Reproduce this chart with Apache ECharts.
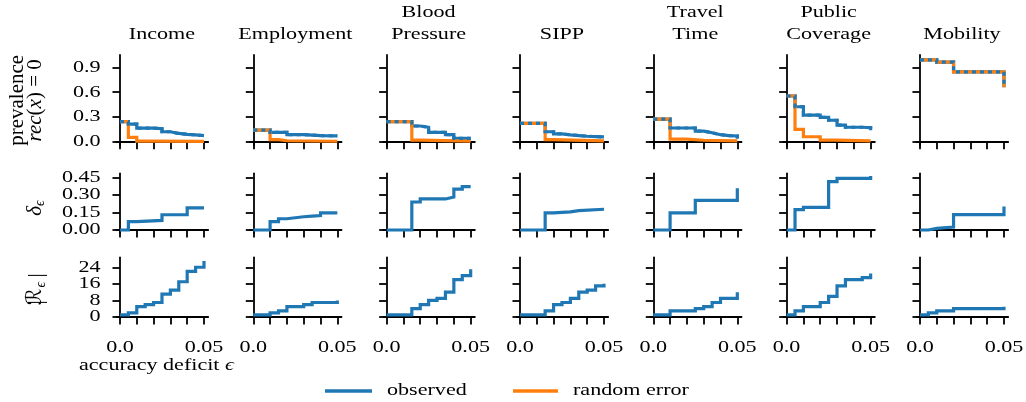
<!DOCTYPE html>
<html>
<head>
<meta charset="utf-8">
<script src="https://cdn.jsdelivr.net/npm/echarts@6/dist/echarts.min.js"></script>
<style>
  html, body { margin: 0; padding: 0; background: #fff; }
  #chart { width: 1026px; height: 402px; }
</style>
</head>
<body>
<div id="chart"></div>
<script>
// ---- data ----------------------------------------------------------------
const datasets = ['Income', 'Employment', 'Blood\nPressure', 'SIPP', 'Travel\nTime', 'Public\nCoverage', 'Mobility'];

const epsTicks = [0, 0.01, 0.02, 0.03, 0.04, 0.05];
const epsLabelValues = [0, 0.05];
const epsLabels = ['0.0', '0.05'];

const prevTicks = [0, 0.3, 0.6, 0.9];
const prevLabels = ['0.0', '0.3', '0.6', '0.9'];
const deltaTicks = [0, 0.15, 0.3, 0.45];
const deltaLabels = ['0.00', '0.15', '0.30', '0.45'];
const sizeTicks = [0, 8, 16, 24];
const sizeLabels = ['0', '8', '16', '24'];

// prevalence of rec(x) = 0, observed errors: [epsilon, value] step points
const prevObserved = [
  [[0, 0.242], [0.005, 0.214], [0.01, 0.165], [0.02, 0.157], [0.025, 0.121], [0.03, 0.10], [0.035, 0.09], [0.04, 0.083], [0.045, 0.073], [0.05, 0.065]],
  [[0, 0.141], [0.01, 0.113], [0.02, 0.085], [0.03, 0.075], [0.04, 0.07], [0.05, 0.062]],
  [[0, 0.242], [0.015, 0.19], [0.02, 0.175], [0.025, 0.113], [0.035, 0.085], [0.04, 0.04], [0.05, 0.035]],
  [[0, 0.222], [0.015, 0.121], [0.02, 0.095], [0.025, 0.083], [0.03, 0.075], [0.035, 0.066], [0.04, 0.062], [0.045, 0.058], [0.05, 0.05]],
  [[0, 0.274], [0.01, 0.166], [0.025, 0.129], [0.03, 0.109], [0.035, 0.085], [0.04, 0.075], [0.045, 0.07], [0.05, 0.04]],
  [[0, 0.553], [0.005, 0.423], [0.01, 0.323], [0.02, 0.295], [0.025, 0.26], [0.03, 0.202], [0.035, 0.175], [0.045, 0.17], [0.05, 0.14]],
  [[0, 0.99], [0.01, 0.964], [0.02, 0.846], [0.05, 0.66]]
];

// prevalence of rec(x) = 0, random errors
const prevRandom = [
  [[0, 0.242], [0.005, 0.053], [0.01, 0.008], [0.02, 0.004], [0.05, 0.002]],
  [[0, 0.141], [0.01, 0.025], [0.015, 0.012], [0.02, 0.006], [0.05, 0.003]],
  [[0, 0.242], [0.015, 0.02], [0.02, 0.008], [0.05, 0.004]],
  [[0, 0.222], [0.015, 0.025], [0.02, 0.01], [0.05, 0.004]],
  [[0, 0.274], [0.01, 0.032], [0.02, 0.018], [0.03, 0.01], [0.05, 0.005]],
  [[0, 0.553], [0.005, 0.15], [0.01, 0.06], [0.02, 0.02], [0.03, 0.01], [0.05, 0.005]],
  [[0, 0.99], [0.01, 0.964], [0.02, 0.846], [0.05, 0.66]]
];

// delta_epsilon, observed
const deltaObserved = [
  [[0, 0], [0.005, 0.071], [0.01, 0.082], [0.025, 0.13], [0.04, 0.189], [0.05, 0.189]],
  [[0, 0], [0.01, 0.071], [0.015, 0.096], [0.02, 0.113], [0.03, 0.118], [0.035, 0.124], [0.04, 0.146], [0.05, 0.15]],
  [[0, 0], [0.015, 0.239], [0.02, 0.265], [0.035, 0.281], [0.04, 0.349], [0.045, 0.371], [0.05, 0.371]],
  [[0, 0], [0.015, 0.146], [0.02, 0.155], [0.03, 0.166], [0.035, 0.177], [0.05, 0.177]],
  [[0, 0], [0.01, 0.146], [0.025, 0.253], [0.05, 0.357]],
  [[0, 0], [0.005, 0.174], [0.01, 0.194], [0.025, 0.413], [0.03, 0.441], [0.05, 0.461]],
  [[0, 0], [0.005, 0.014], [0.01, 0.025], [0.02, 0.132], [0.05, 0.2]]
];

// |R_epsilon|, observed
const sizeObserved = [
  [[0, 1], [0.005, 2], [0.01, 5], [0.015, 6], [0.02, 7], [0.025, 11], [0.03, 13], [0.035, 17], [0.04, 22], [0.045, 24], [0.05, 27]],
  [[0, 1], [0.01, 2], [0.015, 3], [0.02, 5], [0.03, 6], [0.035, 7], [0.05, 8]],
  [[0, 1], [0.015, 4], [0.02, 6], [0.025, 8], [0.03, 9], [0.035, 12], [0.04, 18], [0.045, 20], [0.05, 23]],
  [[0, 1], [0.015, 3], [0.02, 6], [0.025, 7], [0.03, 9], [0.035, 12], [0.04, 13], [0.045, 15], [0.05, 16]],
  [[0, 1], [0.01, 3], [0.025, 4], [0.03, 5], [0.035, 7], [0.04, 9], [0.05, 12]],
  [[0, 1], [0.005, 3], [0.01, 5], [0.02, 7], [0.025, 10], [0.03, 15], [0.035, 18], [0.045, 19], [0.05, 21]],
  [[0, 1], [0.005, 2], [0.01, 3], [0.02, 4], [0.05, 5]]
];

// ---- layout & style ------------------------------------------------------
const BLUE = '#1f77b4';
const ORANGE = '#ff7f0e';
const SERIF = '"Liberation Serif", "DejaVu Serif", serif';
const FONT = '17px ' + SERIF;
const SX = 1.3;            // horizontal widening of horizontal text
const NCOL = 7;
const X_MIN = -0.002, X_MAX = 0.0525;
const GRID_W = 91.6;
const colLeft = c => 116.6 + 133.33 * c;

const rows = [
  { top: 55,    height: 90.7, min: -0.048, max: 1.049, ticks: prevTicks,  labels: prevLabels },
  { top: 173.3, height: 59.4, min: -0.023, max: 0.484, ticks: deltaTicks, labels: deltaLabels },
  { top: 257.3, height: 60.4, min: -0.33,  max: 28.8,  ticks: sizeTicks,  labels: sizeLabels }
];

const axisLine = { show: true, lineStyle: { color: '#000', width: 1.8 } };
const axisTickStyle = { show: true, length: 7.5, inside: false, lineStyle: { color: '#000', width: 1.8 } };

const grids = [], xAxes = [], yAxes = [], series = [];

function stepLine(gi, data, color, dashed, z) {
  return {
    type: 'line', xAxisIndex: gi, yAxisIndex: gi, data: data,
    step: 'end', symbol: 'none', showSymbol: false, silent: true,
    animation: false, z: z,
    lineStyle: { color: color, width: 3.2, type: dashed ? [4, 4] : 'solid', cap: 'butt', join: 'miter' },
    emphasis: { disabled: true }
  };
}

rows.forEach((row, r) => {
  for (let c = 0; c < NCOL; c++) {
    const gi = r * NCOL + c;
    grids.push({ left: colLeft(c), top: row.top, width: GRID_W, height: row.height, containLabel: false });
    xAxes.push({
      type: 'value', gridIndex: gi, min: X_MIN, max: X_MAX,
      axisLine: axisLine, axisTick: Object.assign({ customValues: epsTicks }, axisTickStyle),
      axisLabel: { show: false }, splitLine: { show: false }
    });
    yAxes.push({
      type: 'value', gridIndex: gi, min: row.min, max: row.max,
      axisLine: axisLine, axisTick: Object.assign({ customValues: row.ticks }, axisTickStyle),
      axisLabel: { show: false }, splitLine: { show: false }
    });
    if (r === 0) {
      series.push(stepLine(gi, prevObserved[c], BLUE, false, 2));
      series.push(stepLine(gi, prevRandom[c], ORANGE, false, 3));
      series.push(stepLine(gi, prevObserved[c], BLUE, true, 4));
    } else if (r === 1) {
      series.push(stepLine(gi, deltaObserved[c], BLUE, false, 2));
    } else {
      series.push(stepLine(gi, sizeObserved[c], BLUE, false, 2));
    }
  }
});

const chart = echarts.init(document.getElementById('chart'), null, { renderer: 'canvas' });
chart.setOption({
  backgroundColor: '#fff',
  animation: false,
  grid: grids, xAxis: xAxes, yAxis: yAxes, series: series
});

// ---- text drawn with the axes' own coordinate conversion ----------------
function hText(x, y, text, align, extra) {
  return Object.assign({
    type: 'text', x: x, y: y, scaleX: SX, silent: true, z: 10,
    style: { text: text, font: FONT, fill: '#000', align: align, verticalAlign: 'middle',
             textAlign: align, textVerticalAlign: 'middle' }
  }, extra || {});
}
function vText(x, y, text, font, rich) {
  return {
    type: 'text', x: x, y: y, rotation: Math.PI / 2, silent: true, z: 10,
    style: { text: text, font: font, fill: '#000', align: 'center', verticalAlign: 'middle',
             textAlign: 'center', textVerticalAlign: 'middle', rich: rich }
  };
}

const g = [];

// panel titles
datasets.forEach((name, c) => {
  const cx = chart.convertToPixel({ gridIndex: c }, [0.025, 0])[0];
  const lines = name.split('\n');
  if (lines.length === 1) {
    g.push(hText(cx, 35, lines[0], 'center'));
  } else {
    g.push(hText(cx, 12.7, lines[0], 'center'));
    g.push(hText(cx, 35, lines[1], 'center'));
  }
});

// y tick labels (first column only)
rows.forEach((row, r) => {
  const gi = r * NCOL;
  row.ticks.forEach((v, k) => {
    const p = chart.convertToPixel({ gridIndex: gi }, [X_MIN, v]);
    g.push(hText(p[0] - 16, p[1], row.labels[k], 'right'));
  });
});

// x tick labels (bottom row)
for (let c = 0; c < NCOL; c++) {
  const gi = 2 * NCOL + c;
  epsLabelValues.forEach((v, k) => {
    const p = chart.convertToPixel({ gridIndex: gi }, [v, rows[2].min]);
    g.push(hText(p[0], p[1] + 30, epsLabels[k], 'center'));
  });
}

// x axis name
g.push({
  type: 'text', x: 79, y: 366, scaleX: SX, silent: true, z: 10,
  style: {
    text: 'accuracy deficit {e|ϵ}', font: FONT, fill: '#000', align: 'left', verticalAlign: 'middle',
    textAlign: 'left', textVerticalAlign: 'middle',
    rich: { e: { font: 'italic 17px ' + SERIF, fill: '#000' } }
  }
});

// y axis names
const rowMid = r => rows[r].top + rows[r].height / 2;
g.push(vText(17, rowMid(0), 'prevalence', '21px ' + SERIF));
g.push(vText(35.5, rowMid(0), '{i|rec}{n|(}{i|x}{n|) = 0}', '21px ' + SERIF, {
  i: { font: 'italic 21px ' + SERIF, fill: '#000' },
  n: { font: '21px ' + SERIF, fill: '#000' }
}));
g.push({
  type: 'group', x: 35, y: rowMid(1), rotation: Math.PI / 2, silent: true,
  children: [
    { type: 'text', x: -3, y: 0, silent: true,
      style: { text: 'δ', font: 'italic 21px ' + SERIF, fill: '#000', align: 'right', verticalAlign: 'middle', textAlign: 'right', textVerticalAlign: 'middle' } },
    { type: 'text', x: -3, y: 5, silent: true,
      style: { text: 'ϵ', font: 'italic 14px ' + SERIF, fill: '#000', align: 'left', verticalAlign: 'middle', textAlign: 'left', textVerticalAlign: 'middle' } }
  ]
});
g.push({
  type: 'group', x: 36, y: rowMid(2), rotation: Math.PI / 2, silent: true,
  children: [
    { type: 'text', x: -15, y: 0, silent: true,
      style: { text: '|', font: '21px ' + SERIF, fill: '#000', align: 'center', verticalAlign: 'middle', textAlign: 'center', textVerticalAlign: 'middle' } },
    { type: 'text', x: -1, y: 0, silent: true,
      style: { text: 'ℛ', font: '21px "DejaVu Serif", "DejaVu Sans", "Noto Sans CJK SC", serif', fill: '#000', align: 'right', verticalAlign: 'middle', textAlign: 'right', textVerticalAlign: 'middle' } },
    { type: 'text', x: 0, y: 5, silent: true,
      style: { text: 'ϵ', font: 'italic 14px ' + SERIF, fill: '#000', align: 'left', verticalAlign: 'middle', textAlign: 'left', textVerticalAlign: 'middle' } },
    { type: 'text', x: 12, y: 0, silent: true,
      style: { text: '|', font: '21px ' + SERIF, fill: '#000', align: 'center', verticalAlign: 'middle', textAlign: 'center', textVerticalAlign: 'middle' } }
  ]
});

// legend
const legendItems = [
  { name: 'observed', color: BLUE, x0: 325, x1: 372, tx: 387 },
  { name: 'random error', color: ORANGE, x0: 513, x1: 558, tx: 573 }
];
legendItems.forEach(it => {
  g.push({ type: 'line', silent: true, z: 10,
    shape: { x1: it.x0, y1: 391, x2: it.x1, y2: 391 },
    style: { stroke: it.color, lineWidth: 3.5 } });
  g.push(hText(it.tx, 391, it.name, 'left'));
});

chart.setOption({ graphic: { elements: g } });
</script>
</body>
</html>
